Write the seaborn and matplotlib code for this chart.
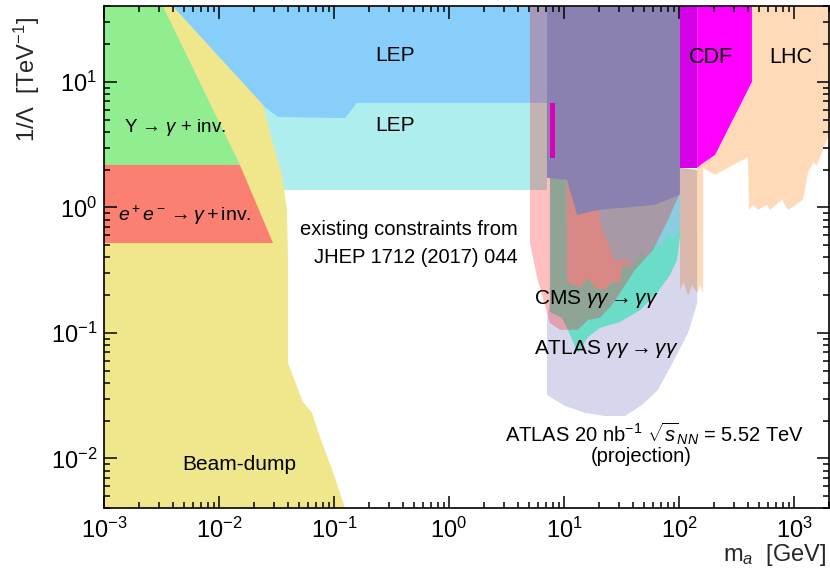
import matplotlib
matplotlib.use("Agg")
import seaborn as sns
import matplotlib.pyplot as plt


# =============================================================================
# DATA: outlines of the excluded regions
#   m_a in GeV (x), 1/Lambda in TeV^-1 (y)
# =============================================================================

# existing constraints (JHEP 1712 (2017) 044)
beam_dump_m = [0.001, 0.00398, 0.0242, 0.0289, 0.0353, 0.039, 0.0398, 0.0398,
               0.0537, 0.0644, 0.0755, 0.098, 0.125, 0.001]
beam_dump_c = [40, 40, 6.56, 3.45, 1.82, 0.955, 0.382, 0.0577,
               0.0282, 0.0231, 0.0148, 0.0078, 0.004, 0.004]

upsilon_m = [0.001, 0.00326, 0.0152, 0.001]
upsilon_c = [40, 40, 2.18, 2.18]

ee_m = [0.001, 0.0152, 0.0295, 0.001]
ee_c = [2.18, 2.18, 0.521, 0.521]

lep_zgg_m = [0.0186, 7.11, 7.11, 0.0339]
lep_zgg_c = [7.87, 7.87, 1.38, 1.38]

lep_3g_m = [0.00326, 7.11, 7.11, 0.158, 0.125, 0.0326, 0.0237]
lep_3g_c = [40, 40, 6.81, 6.81, 5.16, 5.26, 6.56]

cdf_m = [144, 431, 431, 206, 162, 144]
cdf_c = [40, 40, 10, 2.62, 2.26, 2.07]

cdf_edge_m = [102, 144, 144, 102]
cdf_edge_c = [40, 40, 2.07, 2.07]

lhc_m = [431, 2000, 2000, 1936, 1585, 1462, 1324, 1197, 887, 787, 618, 582,
         486, 440, 406, 398, 206, 162, 162, 206, 431]
lhc_c = [40, 40, 3.79, 3.45, 2.18, 2.26, 1.88, 1.15, 0.955, 1.15, 0.955, 1.05,
         0.955, 1.05, 0.955, 2.52, 1.82, 2.07, 2.26, 2.62, 10]

lhc_spike_m = [144, 162, 162, 152, 144]
lhc_spike_c = [2.43, 2.43, 0.208, 0.241, 0.208]

lhc_band_m = [102, 144, 144, 130, 120, 110, 102]
lhc_band_c = [2.07, 1.99, 0.208, 0.241, 0.197, 0.255, 0.22]

z_decay_m = [7.11, 102, 102, 61.8, 19.8, 13.0, 10.6, 7.11]
z_decay_c = [40, 40, 1.26, 1.05, 0.955, 0.871, 1.66, 1.72]

z_strip_m = [7.55, 8.35, 8.35, 7.55]
z_strip_c = [6.81, 6.81, 2.48, 2.48]

h_decay_m = [10.6, 64, 64, 61.8, 50.6, 44.0, 37.5, 32.6, 30.7, 26.1, 22.7, 18.6, 16.2, 13.8, 10.6]
h_decay_c = [1.72, 1.72, 0.62, 0.60, 0.43, 0.45, 0.33, 0.36, 0.25, 0.255, 0.22, 0.231, 0.274, 0.23, 0.255]

zgg_lhc_m = [19.8, 102, 102, 88.7, 80.2, 71.2, 61.8, 53.7, 45.8, 39.0, 33.9, 27.8, 24.2, 20.6]
zgg_lhc_c = [1.05, 1.26, 0.687, 0.551, 0.638, 0.475, 0.531, 0.396, 0.441, 0.33, 0.396, 0.368, 0.521, 0.751]

# light-by-light results and projection
atlas_lbl_m = [7.55, 10.6, 10.6, 102, 102, 96.2, 83.6, 64.4, 45.8, 30.7, 20.6,
               16.2, 13.2, 11.3, 9.61, 7.55]
atlas_lbl_c = [1.72, 1.72, 0.662, 1.15, 0.582, 0.382, 0.29, 0.208, 0.152, 0.122,
               0.11, 0.0929, 0.0693, 0.0964, 0.132, 0.147]

cms_lbl_m = [5.06, 102, 102, 80.2, 59.4, 41.4, 31.9, 26.1, 20.6, 16.2, 13.2,
             9.23, 7.55, 5.82, 5.06]
cms_lbl_c = [40, 40, 1.31, 0.794, 0.458, 0.318, 0.22, 0.167, 0.132, 0.127, 0.106,
             0.106, 0.12, 0.279, 0.521]

proj_m = [9.23, 7.11, 7.11, 10.2, 15.2, 22.7, 33.9, 47.7, 65.6, 88.7, 120, 144, 144]
proj_c = [0.662, 0.127, 0.0321, 0.0262, 0.0231, 0.0218, 0.0218, 0.0267, 0.0351,
          0.0587, 0.1, 0.173, 0.662]


# =============================================================================
# STYLE
# =============================================================================
sns.set_theme(style="ticks")
plt.rcParams["font.family"] = ["Liberation Sans", "DejaVu Sans"]
plt.rcParams["mathtext.fontset"] = "custom"
plt.rcParams["mathtext.rm"] = "Liberation Sans"
plt.rcParams["mathtext.it"] = "Liberation Sans:italic"
plt.rcParams["mathtext.sf"] = "Liberation Sans"
plt.rcParams["axes.linewidth"] = 1.2
plt.rcParams["axes.edgecolor"] = "black"
plt.rcParams["xtick.color"] = "black"
plt.rcParams["ytick.color"] = "black"

W, H = 830, 573
fig = plt.figure(figsize=(W / 100, H / 100), dpi=100)
ax = fig.add_axes([104 / W, 1 - 508.4 / H, 724.6 / W, 502 / H])
ax.set_axisbelow(False)  # ticks sit on top of the shaded regions

# (outline x, outline y, colour, alpha) in drawing order, back to front
layers = [
    (lep_zgg_m, lep_zgg_c, "#afeeee", 1),
    (lep_3g_m, lep_3g_c, "#87cefa", 1),
    (beam_dump_m, beam_dump_c, "#f0e68c", 1),
    (upsilon_m, upsilon_c, "#90ee90", 1),
    (ee_m, ee_c, "#fa8072", 1),
    (proj_m, proj_c, "#d6d6ec", 1),
    (atlas_lbl_m, atlas_lbl_c, "#6adcc8", 1),
    (h_decay_m, h_decay_c, "#ccb8b3", 1),
    (zgg_lhc_m, zgg_lhc_c, "#8bcde0", 1),
    (z_decay_m, z_decay_c, "#63adeb", 1),
    (cms_lbl_m, cms_lbl_c, "red", 0.25),
    (z_strip_m, z_strip_c, "#dd00bb", 1),
    (lhc_m, lhc_c, "#ffdab9", 1),
    (lhc_spike_m, lhc_spike_c, "#ffdab9", 1),
    (lhc_band_m, lhc_band_c, "#d9b8ae", 1),
    (cdf_edge_m, cdf_edge_c, "#d300e8", 1),
    (cdf_m, cdf_c, "#ff00ff", 1),
]
for xs, ys, col, a in layers:
    ax.fill(xs, ys, color=col, alpha=a, lw=0, zorder=1)

ax.set_xscale("log")
ax.set_yscale("log")
ax.set_xlim(1e-3, 2000)
ax.set_ylim(0.004, 40)

ax.tick_params(which="both", direction="in", top=True, right=True, width=1.1)
ax.tick_params(which="major", length=9, labelsize=17)
ax.tick_params(which="minor", length=4.5)
ax.tick_params(axis="x", pad=7)
ax.tick_params(axis="y", pad=5)

# region labels
txt = dict(transform=ax.transAxes, color="black")
ax.text(0.401, 0.903, "LEP", fontsize=15, ha="center", va="center", **txt)
ax.text(0.401, 0.763, "LEP", fontsize=15, ha="center", va="center", **txt)
ax.text(0.098, 0.759, r"Υ → $\gamma$ + inv.", fontsize=13.5, ha="center", va="center", **txt)
ax.text(0.112, 0.583, r"$e^+e^- \rightarrow \gamma + $inv.", fontsize=14, ha="center", va="center", **txt)
ax.text(0.571, 0.555, "existing constraints from", fontsize=14.5, ha="right", va="center", **txt)
ax.text(0.571, 0.499, "JHEP 1712 (2017) 044", fontsize=14.5, ha="right", va="center", **txt)
ax.text(0.186, 0.0875, "Beam-dump", fontsize=15, ha="center", va="center", **txt)
ax.text(0.838, 0.899, "CDF", fontsize=15.5, ha="center", va="center", **txt)
ax.text(0.948, 0.899, "LHC", fontsize=15.5, ha="center", va="center", **txt)
ax.text(0.594, 0.418, r"CMS $\gamma\gamma \rightarrow \gamma\gamma$", fontsize=15, ha="left", va="center", **txt)
ax.text(0.594, 0.318, r"ATLAS $\gamma\gamma \rightarrow \gamma\gamma$", fontsize=15, ha="left", va="center", **txt)
ax.text(0.7595, 0.149, r"ATLAS 20 nb$^{-1}$ $\sqrt{s}_{NN}$ = 5.52 TeV", fontsize=14.5, ha="center", va="center", **txt)
ax.text(0.742, 0.104, "(projection)", fontsize=14.5, ha="center", va="center", **txt)

# axis titles
fig.text(27 / W, 1 - 79 / H, r"1/Λ  [TeV$^{-1}$]", fontsize=17, rotation=90, ha="center", va="center")
fig.text(827 / W, 1 - 555 / H, r"m$_a$  [GeV]", fontsize=17, ha="right", va="center")

fig.savefig("out.png", dpi=100)
